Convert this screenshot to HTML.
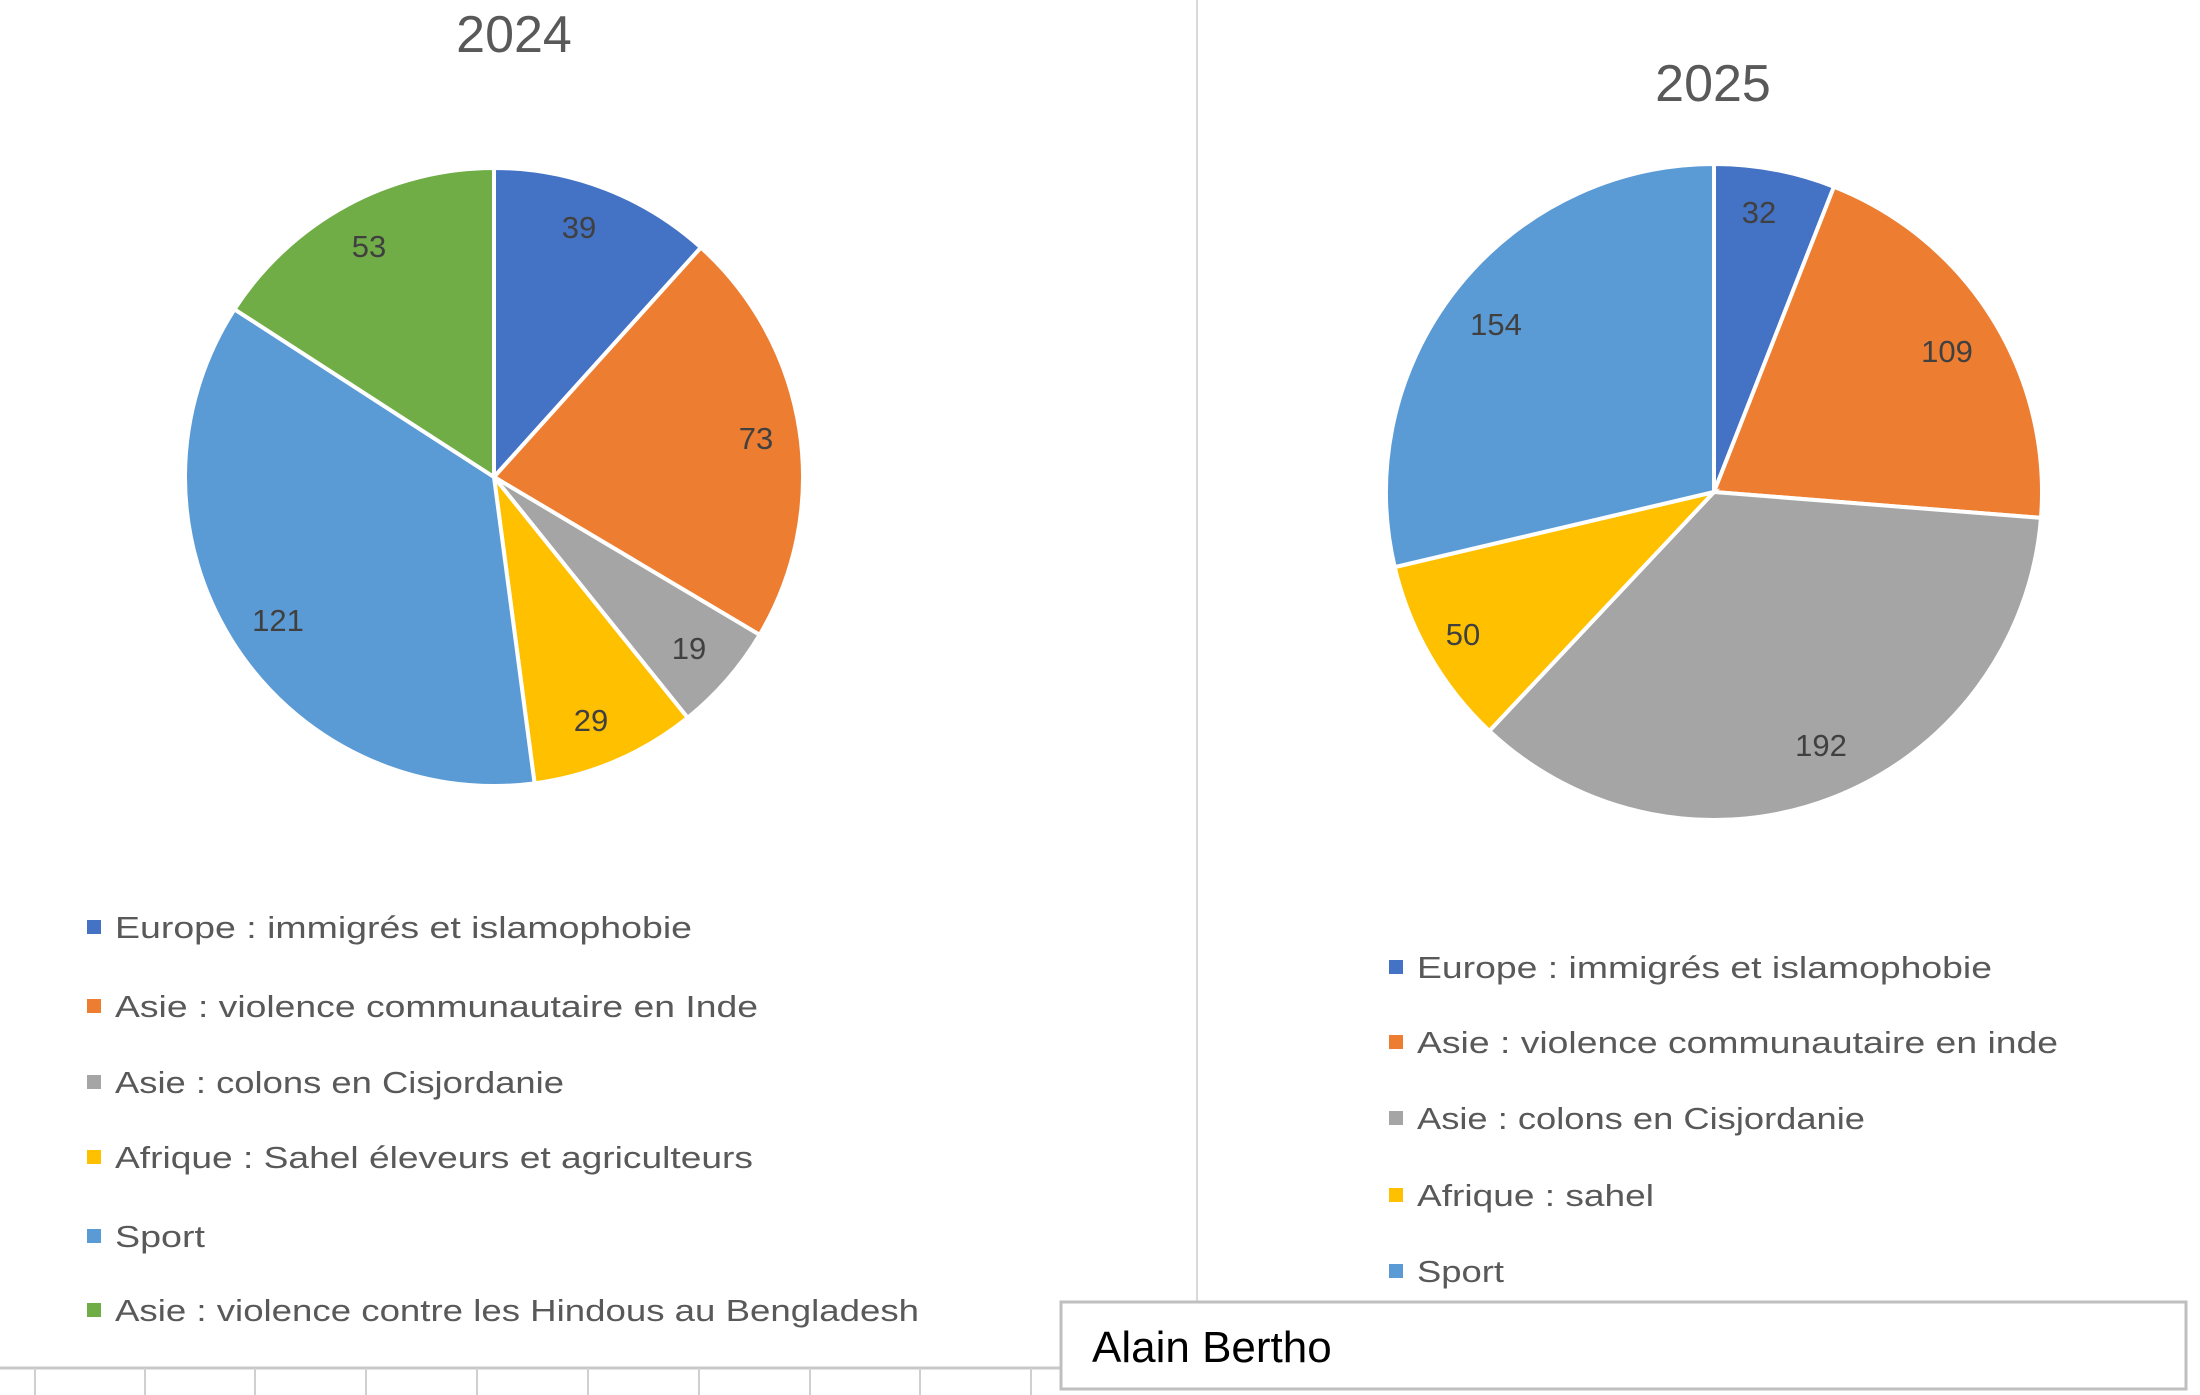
<!DOCTYPE html>
<html><head><meta charset="utf-8"><style>
html,body{margin:0;padding:0;background:#fff;width:2200px;height:1395px;overflow:hidden}
svg{display:block}
</style></head><body>
<svg id="s" width="2200" height="1395" xmlns="http://www.w3.org/2000/svg" font-family="Liberation Sans, DejaVu Sans, sans-serif">
<rect width="2200" height="1395" fill="#fff"/>
<line x1="1197" y1="0" x2="1197" y2="1302" stroke="#d9d9d9" stroke-width="2"/>
<line x1="0" y1="1368" x2="1061" y2="1368" stroke="#c8c8c8" stroke-width="3"/>
<g stroke="#d0d0d0" stroke-width="2">
<line x1="35" y1="1368" x2="35" y2="1395"/><line x1="145" y1="1368" x2="145" y2="1395"/><line x1="255" y1="1368" x2="255" y2="1395"/><line x1="366" y1="1368" x2="366" y2="1395"/><line x1="477" y1="1368" x2="477" y2="1395"/><line x1="588" y1="1368" x2="588" y2="1395"/><line x1="699" y1="1368" x2="699" y2="1395"/><line x1="810" y1="1368" x2="810" y2="1395"/><line x1="920" y1="1368" x2="920" y2="1395"/><line x1="1031" y1="1368" x2="1031" y2="1395"/>
</g>
<text x="514" y="52" font-size="52" fill="#595959" text-anchor="middle">2024</text>
<text x="1713" y="101" font-size="52" fill="#595959" text-anchor="middle">2025</text>
<g id="p1"></g><g id="p2"></g>
<g font-size="31" fill="#404040" text-anchor="middle">
<text x="579" y="238">39</text><text x="756" y="449">73</text><text x="689" y="659">19</text><text x="591" y="731">29</text><text x="278" y="631">121</text><text x="369" y="257">53</text>
<text x="1759" y="223">32</text><text x="1947" y="362">109</text><text x="1821" y="756">192</text><text x="1463" y="645">50</text><text x="1496" y="335">154</text>
</g>
<g font-size="31" fill="#595959">
<rect x="87" y="920" width="14" height="14" fill="#4472C4"/><text x="115" y="938" textLength="577" lengthAdjust="spacingAndGlyphs">Europe : immigrés et islamophobie</text>
<rect x="87" y="999" width="14" height="14" fill="#ED7D31"/><text x="115" y="1017" textLength="643" lengthAdjust="spacingAndGlyphs">Asie : violence communautaire en Inde</text>
<rect x="87" y="1075" width="14" height="14" fill="#A5A5A5"/><text x="115" y="1093" textLength="449" lengthAdjust="spacingAndGlyphs">Asie : colons en Cisjordanie</text>
<rect x="87" y="1150" width="14" height="14" fill="#FFC000"/><text x="115" y="1168" textLength="638" lengthAdjust="spacingAndGlyphs">Afrique : Sahel éleveurs et agriculteurs</text>
<rect x="87" y="1229" width="14" height="14" fill="#5B9BD5"/><text x="115" y="1247" textLength="90" lengthAdjust="spacingAndGlyphs">Sport</text>
<rect x="87" y="1303" width="14" height="14" fill="#70AD47"/><text x="115" y="1321" textLength="804" lengthAdjust="spacingAndGlyphs">Asie : violence contre les Hindous au Bengladesh</text>
<rect x="1389" y="960" width="14" height="14" fill="#4472C4"/><text x="1417" y="978" textLength="575" lengthAdjust="spacingAndGlyphs">Europe : immigrés et islamophobie</text>
<rect x="1389" y="1035" width="14" height="14" fill="#ED7D31"/><text x="1417" y="1053" textLength="641" lengthAdjust="spacingAndGlyphs">Asie : violence communautaire en inde</text>
<rect x="1389" y="1111" width="14" height="14" fill="#A5A5A5"/><text x="1417" y="1129" textLength="448" lengthAdjust="spacingAndGlyphs">Asie : colons en Cisjordanie</text>
<rect x="1389" y="1188" width="14" height="14" fill="#FFC000"/><text x="1417" y="1206" textLength="237" lengthAdjust="spacingAndGlyphs">Afrique : sahel</text>
<rect x="1389" y="1264" width="14" height="14" fill="#5B9BD5"/><text x="1417" y="1282" textLength="87" lengthAdjust="spacingAndGlyphs">Sport</text>
</g>
<rect x="1061" y="1302" width="1125" height="87" fill="#fff" stroke="#bfbfbf" stroke-width="3"/>
<text x="1092" y="1362" font-size="44" fill="#000">Alain Bertho</text>
</svg>
<script>
function pie(id,cx,cy,r,vals,cols){
  var t=vals.reduce(function(a,b){return a+b},0),a=0,h='';
  for(var i=0;i<vals.length;i++){
    var a0=a/t*2*Math.PI; a+=vals[i]; var a1=a/t*2*Math.PI;
    var x0=cx+r*Math.sin(a0),y0=cy-r*Math.cos(a0),x1=cx+r*Math.sin(a1),y1=cy-r*Math.cos(a1);
    var lg=(a1-a0)>Math.PI?1:0;
    h+='<path d="M'+cx+' '+cy+' L'+x0+' '+y0+' A'+r+' '+r+' 0 '+lg+' 1 '+x1+' '+y1+' Z" fill="'+cols[i]+'" stroke="#fff" stroke-width="4"/>';
  }
  document.getElementById(id).innerHTML=h;
}
pie('p1',494,477,309,[39,73,19,29,121,53],['#4472C4','#ED7D31','#A5A5A5','#FFC000','#5B9BD5','#70AD47']);
pie('p2',1714,492,328,[32,109,192,50,154],['#4472C4','#ED7D31','#A5A5A5','#FFC000','#5B9BD5']);
</script>
</body></html>
